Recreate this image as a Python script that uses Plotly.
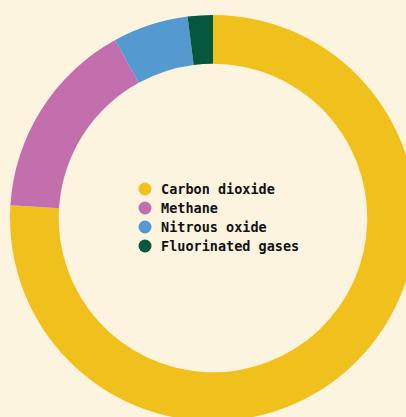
import plotly.graph_objects as go

labels = ["Carbon dioxide", "Methane", "Nitrous oxide", "Fluorinated gases"]
values = [76, 16, 6, 2]
colors = ["#F0C11C", "#C36FAE", "#5499CF", "#05573E"]
bg = "#FDF4DF"

W, H = 416, 421
ML, MT = 10, 15
PW, PH = W - ML, H - MT


def px_x(x):
    return (x - ML) / PW


def px_y(y):
    return 1 - (y - MT) / PH


fig = go.Figure()
fig.add_trace(go.Pie(
    labels=labels, values=values, sort=False, direction="clockwise", rotation=0,
    hole=0.76, marker=dict(colors=colors, line=dict(width=0)),
    textinfo="none", hoverinfo="label+percent", showlegend=False,
    domain=dict(x=[0, 1], y=[0, 1]),
))

shapes, annotations = [], []
for i, (lab, col) in enumerate(zip(labels, colors)):
    yc = px_y(189 + 19 * i)
    shapes.append(dict(type="circle", xref="paper", yref="paper",
                       xsizemode="pixel", ysizemode="pixel",
                       xanchor=px_x(145), yanchor=yc,
                       x0=-6.5, x1=6.5, y0=-6.5, y1=6.5,
                       fillcolor=col, line=dict(width=0)))
    annotations.append(dict(text=lab, xref="paper", yref="paper",
                            x=px_x(159), y=yc, xanchor="left", yanchor="middle",
                            showarrow=False,
                            font=dict(family="DejaVu Sans Mono", size=13.5,
                                      color="#111111", weight="bold")))

fig.update_layout(
    width=W, height=H,
    margin=dict(l=ML, r=0, t=MT, b=0),
    paper_bgcolor=bg, plot_bgcolor=bg,
    showlegend=False,
    shapes=shapes, annotations=annotations,
)
fig.write_html("out.html", config={"displayModeBar": False},
               post_script="document.body.style.margin='0';document.body.style.overflow='hidden';")
